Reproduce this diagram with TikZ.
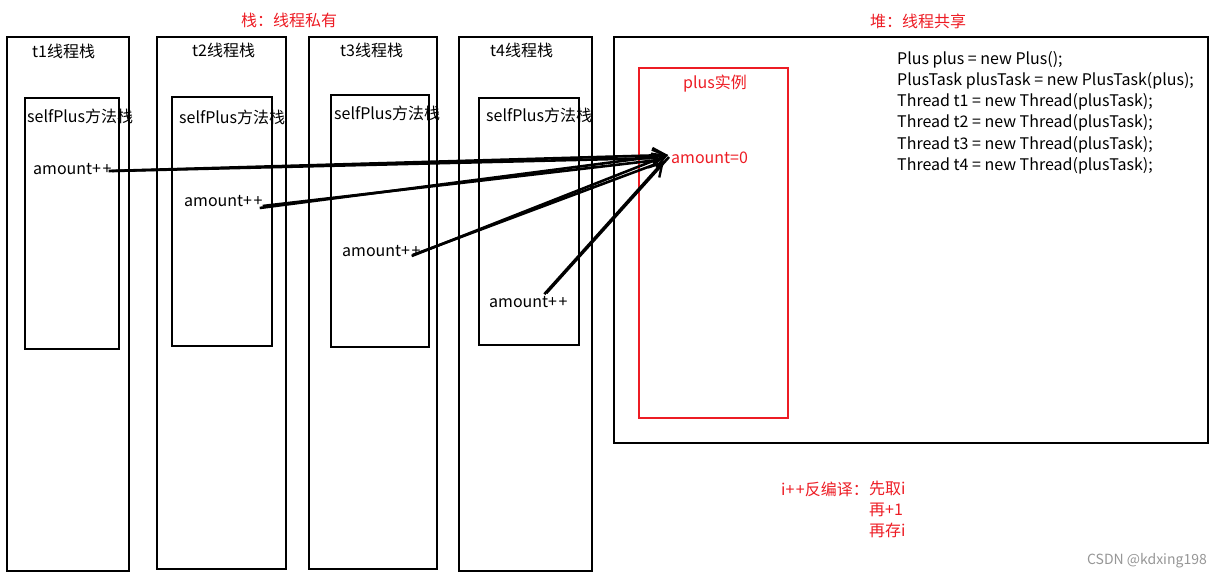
\documentclass[tikz,border=0pt]{standalone}
\usepackage{fontspec}
\setmainfont{Noto Sans CJK SC}
\usetikzlibrary{arrows.meta,calc}
\definecolor{myred}{RGB}{237,28,36}
\definecolor{wm}{RGB}{150,150,150}
\newcommand{\pp}{+\kern1.5pt+}
\begin{document}
\begin{tikzpicture}[x=1pt,y=-1pt,
  box/.style={draw=black,line width=2pt},
  rbox/.style={draw=myred,line width=2pt},
  txt/.style={font=\fontsize{16}{18}\selectfont,inner sep=0pt,anchor=west},
  rtxt/.style={txt,text=myred},
  arr/.style={line width=2.6pt,-{Straight Barb[length=13pt,width=15pt,line width=2.4pt]}}]
\useasboundingbox (0,0) rectangle (1222,579);
% thread stacks
\draw[box] (7,37) rectangle (129,571);
\draw[box] (25,98) rectangle (119,349);
\draw[box] (157,37) rectangle (286,569);
\draw[box] (172,97) rectangle (272,346);
\draw[box] (309,37) rectangle (437,569);
\draw[box] (331,95) rectangle (429,347);
\draw[box] (459,37) rectangle (592,571);
\draw[box] (479,98) rectangle (579,345);
% heap
\draw[box] (614,37) rectangle (1208,443);
\draw[rbox] (639,68) rectangle (788,418);
% labels
\node[rtxt,anchor=center] (lstack) at (289,20) {栈：线程私有};
\node[rtxt,anchor=center] (lheap) at (918,21) {堆：线程共享};
\node[txt] (n1) at (32,51) {t1线程栈};
\node[txt] (n2) at (192,50) {t2线程栈};
\node[txt] (n3) at (340,50) {t3线程栈};
\node[txt] (n4) at (490,50) {t4线程栈};
\node[txt] (m1) at (27,116) {selfPlus方法栈};
\node[txt] (m2) at (179,117) {selfPlus方法栈};
\node[txt] (m3) at (334,113) {selfPlus方法栈};
\node[txt] (m4) at (486,115) {selfPlus方法栈};
\node[txt] (a1) at (33,169) {amount\pp};
\node[txt] (a2) at (184,201) {amount\pp};
\node[txt] (a3) at (342,251) {amount\pp};
\node[txt] (a4) at (489,302) {amount\pp};
\node[rtxt,anchor=center] (pi) at (715,84) {plus实例};
\node[rtxt] (am) at (671,158) {amount=0};
\node[txt,anchor=north west,align=left,font=\fontsize{16}{21.2}\selectfont] (code) at (897,51)
 {Plus plus = new Plus();\\
  PlusTask plusTask = new PlusTask(plus);\\
  Thread t1 = new Thread(plusTask);\\
  Thread t2 = new Thread(plusTask);\\
  Thread t3 = new Thread(plusTask);\\
  Thread t4 = new Thread(plusTask);};
\node[rtxt,anchor=north west,align=left,font=\fontsize{16}{21}\selectfont] (steps) at (869,481) {先取i\\再+1\\再存i};
\node[rtxt,anchor=east] (dec) at (869,489) {i\pp 反编译：};
\node[txt,text=wm,font=\fontsize{14}{16}\selectfont,anchor=east] (mark) at (1207,561) {CSDN @kdxing198};
% arrows
\coordinate (tip) at ($(am.west)+(-3,-3)$);
\draw[arr] ($(a1.east)+(-3,2)$) -- (tip);
\draw[line width=2.6pt] ($(a1.east)+(0,2)$) -- ($(tip)+(-10,3)$);
\draw[arr] ($(a2.east)+(-3,7)$) -- (tip);
\draw[line width=2.6pt] ($(a2.east)+(0,5)$) -- ($(tip)+(-10,5)$);
\draw[arr] ($(a3.east)+(-9,5)$) -- (tip);
\draw[line width=2.6pt] ($(a3.east)+(-8,4)$) -- ($(tip)+(-12,9)$);
\draw[arr] ($(a4.north)+(16,-2)$) -- ($(tip)+(-4,6)$);
\draw[line width=2.6pt] ($(a4.north)+(18,-3)$) -- ($(tip)+(1,2)$);
\end{tikzpicture}
\end{document}
